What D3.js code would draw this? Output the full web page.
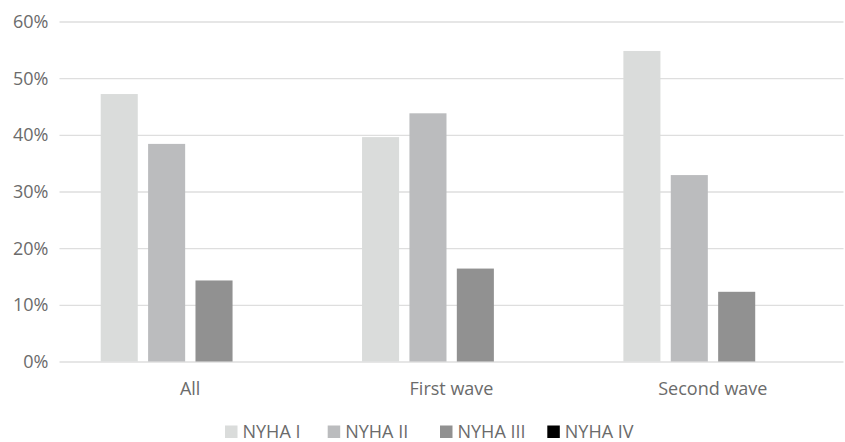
<!DOCTYPE html>
<html>
<head>
<meta charset="utf-8">
<script src="https://cdn.jsdelivr.net/npm/d3@7"></script>
<style>
  html, body { margin: 0; padding: 0; background: #fff; }
  svg { display: block; }
  text { font-family: "Open Sans", sans-serif; fill: #6b6b6b; }
</style>
</head>
<body>
<svg id="chart" width="845" height="442"></svg>
<script>
const categories = ["All", "First wave", "Second wave"];
const seriesNames = ["NYHA I", "NYHA II", "NYHA III", "NYHA IV"];
const nyha1 = [47.2, 39.6, 54.8];
const nyha2 = [38.4, 43.8, 32.9];
const nyha3 = [14.3, 16.4, 12.3];
const nyha4 = [0, 0, 0];
const yTicks = [0, 10, 20, 30, 40, 50, 60];
const colors = ["#dadcdb", "#bbbcbe", "#919191", "#000000"];

const seriesValues = [nyha1, nyha2, nyha3, nyha4];
const data = categories.map((c, i) => ({
  category: c,
  values: seriesNames.map((s, j) => ({ series: s, value: seriesValues[j][i] }))
}));

const svg = d3.select("#chart");
const mLeft = 59.5, mRight = 843.5, mTop = 21.5, mBottom = 361.5;

const x0 = d3.scaleBand().domain(categories).range([mLeft, mRight]).padding(0);
const bw = x0.bandwidth();
const x1 = d3.scaleBand().domain(seriesNames)
  .range([bw * 0.1577, bw * 0.8435]).paddingInner(0.218).paddingOuter(0);
const y = d3.scaleLinear().domain([0, 60]).range([mBottom, mTop]);
const color = d3.scaleOrdinal().domain(seriesNames).range(colors);

// gridlines + y labels
const yAxis = d3.axisLeft(y).tickValues(yTicks).tickSize(-(mRight - mLeft))
  .tickFormat(d => d + "%").tickPadding(11);
const gy = svg.append("g").attr("transform", `translate(${mLeft},0)`).call(yAxis);
gy.select(".domain").remove();
gy.selectAll(".tick line").attr("stroke", "#dedede").attr("stroke-width", 1.3);
gy.selectAll(".tick text").attr("font-size", "18px").attr("fill", "#6b6b6b")
  .attr("font-family", "'Open Sans', sans-serif").attr("dy", "0.34em");

// bars
const groups = svg.append("g").selectAll("g").data(data).join("g")
  .attr("transform", d => `translate(${x0(d.category)},0)`);
groups.selectAll("rect").data(d => d.values).join("rect")
  .attr("x", d => x1(d.series))
  .attr("width", x1.bandwidth())
  .attr("y", d => y(d.value))
  .attr("height", d => y(0) - y(d.value))
  .attr("fill", d => color(d.series));

// x axis labels
const xAxis = d3.axisBottom(x0).tickSize(0).tickPadding(21);
const gx = svg.append("g").attr("transform", `translate(0,${mBottom})`).call(xAxis);
gx.select(".domain").remove();
gx.selectAll(".tick text").attr("font-size", "18px").attr("fill", "#6b6b6b")
  .attr("font-family", "'Open Sans', sans-serif");

// legend
const legendX = [225, 327.7, 440, 547.3];
const legend = svg.append("g").selectAll("g").data(seriesNames).join("g")
  .attr("transform", (d, i) => `translate(${legendX[i]},425.5)`);
legend.append("rect").attr("width", 12.5).attr("height", 12.5)
  .attr("fill", d => color(d));
legend.append("text").attr("x", 17.5).attr("y", 12.5)
  .attr("font-size", "18px").text(d => d);
</script>
</body>
</html>
